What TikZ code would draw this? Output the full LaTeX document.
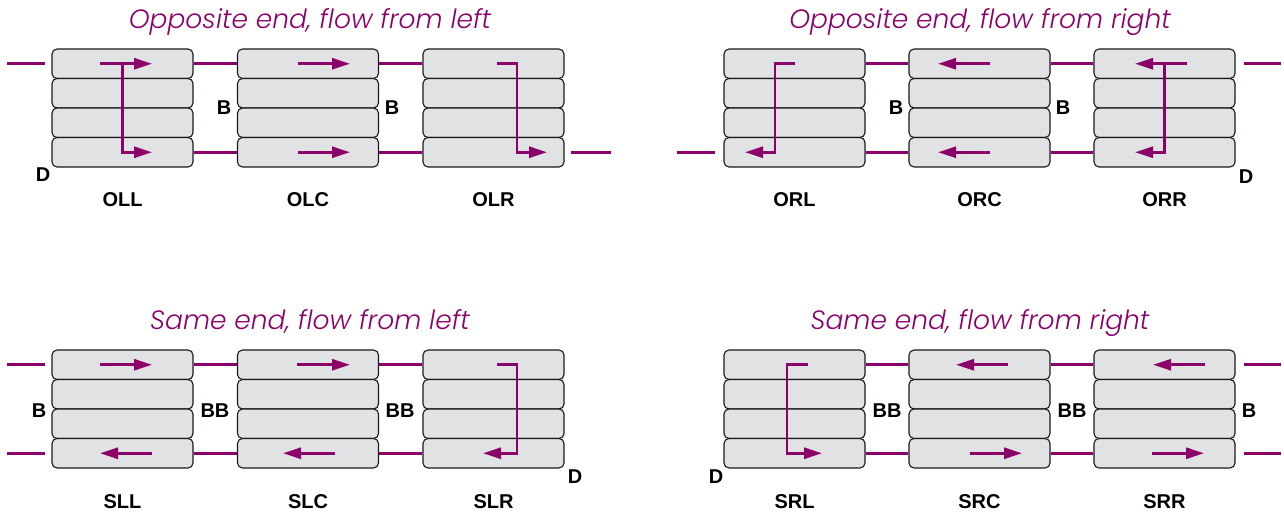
\documentclass[tikz,border=0pt]{standalone}
\usepackage{fontspec}
\setmainfont{Liberation Sans}
\newfontfamily\titlefont{Poppins Light}[ItalicFont={Poppins Light Italic}]
\usetikzlibrary{arrows.meta}
\definecolor{plum}{RGB}{140,0,105}
\definecolor{cellgray}{RGB}{225,226,228}

\begin{document}
\begin{tikzpicture}[x=1pt,y=-1pt]
	\tikzstyle{cell} = [draw=black!90, fill=cellgray, rounded corners=5pt, line width=1.1pt, minimum width=141pt, minimum height=29.5pt, inner sep=0pt];
	\tikzstyle{pipe} = [draw=plum, line width=2.8pt];
	\tikzstyle{flow} = [pipe, -{Triangle[length=18pt,width=11pt]}];
	\tikzstyle{title} = [anchor=base, text=plum, font=\titlefont\itshape\fontsize{26.5}{26.5}\selectfont];
	\tikzstyle{tag} = [anchor=base, inner sep=0pt, font=\bfseries\fontsize{20}{20}\selectfont];
	
	\useasboundingbox (0,0) rectangle (1284,518);
	
	% stacks of four cells
	\foreach \name/\cx/\top in {OLL/122.5/49, OLC/308/49, OLR/493.5/49, ORL/794.5/49, ORC/979.5/49, ORR/1164.5/49,
		SLL/122.5/350, SLC/308/350, SLR/493.5/350, SRL/794.5/350, SRC/979.5/350, SRR/1164.5/350}
	{
		\foreach \r in {1,...,4}
		\node[cell] (\name\r) at (\cx, {\top+29.5*\r-14.75}) {};
		\node[tag] (\name) at (\cx, \top+158) {\name};
	}
	
	\node[title] (titleOL) at (310,29) {Opposite end, flow from left};
	\node[title] (titleOR) at (980,29) {Opposite end, flow from right};
	\node[title] (titleSL) at (310,330) {Same end, flow from left};
	\node[title] (titleSR) at (980,330) {Same end, flow from right};
	
	% pipes between stacks
	\foreach \a/\b in {OLL/OLC, OLC/OLR, ORL/ORC, ORC/ORR, SLL/SLC, SLC/SLR, SRL/SRC, SRC/SRR}
	\foreach \r in {1,4}
	\path[pipe] (\a\r) -- (\b\r);
	
	% pipes in and out
	\coordinate (inOL) at ([xshift=-44pt]OLL1.west);
	\coordinate (outOL) at ([xshift=46pt]OLR4.east);
	\coordinate (inOR) at ([xshift=-46pt]ORL4.west);
	\coordinate (outOR) at ([xshift=45pt]ORR1.east);
	\coordinate (inSL) at ([xshift=-44pt]SLL1.west);
	\coordinate (outSL) at ([xshift=-44pt]SLL4.west);
	\coordinate (inSR) at ([xshift=45pt]SRR1.east);
	\coordinate (outSR) at ([xshift=45pt]SRR4.east);
	\draw[pipe] (inOL) -- ([xshift=-6pt]OLL1.west);
	\draw[pipe] ([xshift=6pt]OLR4.east) -- (outOL);
	\draw[pipe] (inOR) -- ([xshift=-8pt]ORL4.west);
	\draw[pipe] ([xshift=8pt]ORR1.east) -- (outOR);
	\draw[pipe] (inSL) -- ([xshift=-6pt]SLL1.west);
	\draw[pipe] (outSL) -- ([xshift=-6pt]SLL4.west);
	\draw[pipe] ([xshift=8pt]SRR1.east) -- (inSR);
	\draw[pipe] ([xshift=8pt]SRR4.east) -- (outSR);
	
	% flow arrows
	\draw[flow] ([xshift=-22.5pt]OLL1.center) -- ([xshift=29.5pt]OLL1.center);
	\draw[flow] (OLL1.center) -- (OLL4.center) -- ([xshift=29.5pt]OLL4.center);
	\draw[flow] ([xshift=-10pt]OLC1.center) -- ([xshift=42pt]OLC1.center);
	\draw[flow] ([xshift=-10pt]OLC4.center) -- ([xshift=42pt]OLC4.center);
	\draw[flow] ([xshift=3.5pt]OLR1.center) -- ([xshift=23.5pt]OLR1.center) -- ([xshift=23.5pt]OLR4.center) -- ([xshift=53.5pt]OLR4.center);
	
	\draw[flow] ([xshift=0.5pt]ORL1.center) -- ([xshift=-19.5pt]ORL1.center) -- ([xshift=-19.5pt]ORL4.center) -- ([xshift=-49.5pt]ORL4.center);
	\draw[flow] ([xshift=10.5pt]ORC1.center) -- ([xshift=-41.5pt]ORC1.center);
	\draw[flow] ([xshift=10.5pt]ORC4.center) -- ([xshift=-41.5pt]ORC4.center);
	\draw[flow] ([xshift=22.5pt]ORR1.center) -- ([xshift=-29.5pt]ORR1.center);
	\draw[flow] (ORR1.center) -- (ORR4.center) -- ([xshift=-29.5pt]ORR4.center);
	
	\draw[flow] ([xshift=-22.5pt]SLL1.center) -- ([xshift=29.5pt]SLL1.center);
	\draw[flow] ([xshift=29.5pt]SLL4.center) -- ([xshift=-22.5pt]SLL4.center);
	\draw[flow] ([xshift=-11pt]SLC1.center) -- ([xshift=42pt]SLC1.center);
	\draw[flow] ([xshift=27pt]SLC4.center) -- ([xshift=-25pt]SLC4.center);
	\draw[flow] ([xshift=3.5pt]SLR1.center) -- ([xshift=23.5pt]SLR1.center) -- ([xshift=23.5pt]SLR4.center) -- ([xshift=-10.5pt]SLR4.center);
	
	\draw[flow] ([xshift=13.5pt]SRL1.center) -- ([xshift=-7.5pt]SRL1.center) -- ([xshift=-7.5pt]SRL4.center) -- ([xshift=27.5pt]SRL4.center);
	\draw[flow] ([xshift=28.5pt]SRC1.center) -- ([xshift=-23.5pt]SRC1.center);
	\draw[flow] ([xshift=-9.5pt]SRC4.center) -- ([xshift=42.5pt]SRC4.center);
	\draw[flow] ([xshift=40.5pt]SRR1.center) -- ([xshift=-11.5pt]SRR1.center);
	\draw[flow] ([xshift=-12.5pt]SRR4.center) -- ([xshift=39.5pt]SRR4.center);
	
	% baffles and drains
	\node[tag] (bOL1) at (224,115) {B};
	\node[tag] (bOL2) at (392,115) {B};
	\node[tag] (dOL) at (43,182) {D};
	\node[tag] (bOR1) at (896,115) {B};
	\node[tag] (bOR2) at (1063,115) {B};
	\node[tag] (dOR) at (1246,184) {D};
	\node[tag] (bSL0) at (39,417) {B};
	\node[tag] (bSL1) at (215,417) {BB};
	\node[tag] (bSL2) at (400,417) {BB};
	\node[tag] (dSL) at (575,483) {D};
	\node[tag] (bSR1) at (887,417) {BB};
	\node[tag] (bSR2) at (1072,417) {BB};
	\node[tag] (bSR3) at (1249,417) {B};
	\node[tag] (dSR) at (716,483) {D};
\end{tikzpicture}
\end{document}
